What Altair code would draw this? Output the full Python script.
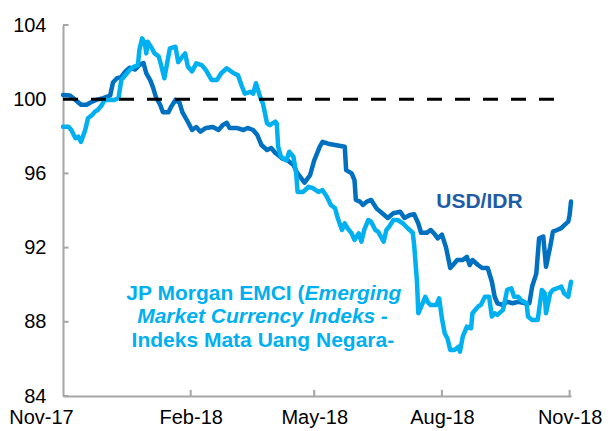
import altair as alt
import pandas as pd

# ---------------- data ----------------
usd_dates = [
    "2017-11-01", "2017-11-06", "2017-11-10", "2017-11-14", "2017-11-18", "2017-11-22", "2017-11-25", "2017-11-30", "2017-12-05", "2017-12-07",
    "2017-12-10", "2017-12-13", "2017-12-16", "2017-12-19", "2017-12-23", "2017-12-26", "2017-12-29", "2017-12-31", "2018-01-03", "2018-01-05",
    "2018-01-07", "2018-01-10", "2018-01-12", "2018-01-16", "2018-01-18", "2018-01-21", "2018-01-24", "2018-01-26", "2018-01-30", "2018-02-02",
    "2018-02-05", "2018-02-08", "2018-02-12", "2018-02-17", "2018-02-21", "2018-02-24", "2018-02-27", "2018-03-01", "2018-03-06", "2018-03-11",
    "2018-03-14", "2018-03-18", "2018-03-21", "2018-03-24", "2018-03-28", "2018-03-31", "2018-04-03", "2018-04-05", "2018-04-08", "2018-04-12",
    "2018-04-16", "2018-04-19", "2018-04-24", "2018-04-28", "2018-05-01", "2018-05-05", "2018-05-07", "2018-05-11", "2018-05-23", "2018-05-24",
    "2018-05-28", "2018-05-30", "2018-05-31", "2018-06-03", "2018-06-05", "2018-06-08", "2018-06-11", "2018-06-15", "2018-06-19", "2018-06-23",
    "2018-06-27", "2018-07-02", "2018-07-05", "2018-07-09", "2018-07-12", "2018-07-15", "2018-07-17", "2018-07-21", "2018-07-24", "2018-07-27",
    "2018-07-29", "2018-08-01", "2018-08-04", "2018-08-07", "2018-08-09", "2018-08-12", "2018-08-16", "2018-08-19", "2018-08-21", "2018-08-23",
    "2018-08-27", "2018-08-30", "2018-09-03", "2018-09-06", "2018-09-08", "2018-09-10", "2018-09-14", "2018-09-17", "2018-09-21", "2018-09-25",
    "2018-09-30", "2018-10-03", "2018-10-05", "2018-10-08", "2018-10-10", "2018-10-13", "2018-10-15", "2018-10-18", "2018-10-20", "2018-10-23",
    "2018-10-26", "2018-10-28", "2018-10-31", "2018-11-01", "2018-11-02",
]
usd_vals = [
    100.23, 100.2, 99.96, 99.7, 99.7, 99.87, 99.96, 100.06, 100.2, 100.9,
    101.14, 101.2, 101.5, 101.7, 101.6, 101.85, 101.95, 101.4, 101.0, 100.6,
    100.1, 99.7, 99.3, 99.3, 99.6, 99.96, 99.8, 99.3, 98.77, 98.34,
    98.5, 98.25, 98.45, 98.5, 98.34, 98.6, 98.73, 98.45, 98.45, 98.34,
    98.45, 98.34, 98.07, 97.53, 97.26, 97.37, 97.1, 96.99, 96.8, 96.7,
    96.45, 96.0, 95.5, 95.9, 96.7, 97.44, 97.7, 97.6, 97.44, 96.18,
    96.0, 95.64, 94.57, 94.48, 94.3, 94.48, 94.57, 94.1, 93.85, 93.6,
    93.85, 93.93, 93.6, 93.76, 93.8, 93.3, 92.8, 92.8, 92.95, 92.7,
    92.5, 92.7, 92.0, 90.9, 91.06, 91.33, 91.33, 91.5, 91.06, 91.33,
    91.06, 90.9, 90.9, 90.16, 89.35, 89.0, 88.9, 89.08, 89.0, 89.08,
    89.0, 89.0, 89.9, 90.6, 92.5, 92.6, 90.97, 92.05, 92.86, 92.95,
    93.05, 93.2, 93.4, 93.76, 94.48,
]

emci_dates = [
    "2017-11-01", "2017-11-05", "2017-11-07", "2017-11-10", "2017-11-12", "2017-11-14", "2017-11-17", "2017-11-19", "2017-11-22", "2017-11-24",
    "2017-11-26", "2017-11-29", "2017-12-01", "2017-12-05", "2017-12-08", "2017-12-11", "2017-12-13", "2017-12-16", "2017-12-19", "2017-12-22",
    "2017-12-25", "2017-12-26", "2017-12-28", "2017-12-30", "2017-12-31", "2018-01-01", "2018-01-04", "2018-01-06", "2018-01-09", "2018-01-11",
    "2018-01-13", "2018-01-15", "2018-01-17", "2018-01-21", "2018-01-23", "2018-01-25", "2018-01-28", "2018-01-30", "2018-02-02", "2018-02-05",
    "2018-02-09", "2018-02-12", "2018-02-16", "2018-02-20", "2018-02-23", "2018-02-27", "2018-03-04", "2018-03-07", "2018-03-10", "2018-03-12",
    "2018-03-16", "2018-03-18", "2018-03-20", "2018-03-23", "2018-03-25", "2018-03-28", "2018-03-30", "2018-04-03", "2018-04-04", "2018-04-05",
    "2018-04-07", "2018-04-11", "2018-04-13", "2018-04-16", "2018-04-18", "2018-04-19", "2018-04-23", "2018-04-27", "2018-04-30", "2018-05-04",
    "2018-05-07", "2018-05-10", "2018-05-13", "2018-05-16", "2018-05-18", "2018-05-21", "2018-05-23", "2018-05-25", "2018-05-28", "2018-05-30",
    "2018-06-02", "2018-06-04", "2018-06-06", "2018-06-09", "2018-06-11", "2018-06-14", "2018-06-16", "2018-06-20", "2018-06-22", "2018-06-24",
    "2018-06-27", "2018-06-30", "2018-07-04", "2018-07-08", "2018-07-11", "2018-07-12", "2018-07-14", "2018-07-15", "2018-07-17", "2018-07-20",
    "2018-07-22", "2018-07-24", "2018-07-28", "2018-07-30", "2018-08-01", "2018-08-03", "2018-08-05", "2018-08-07", "2018-08-10", "2018-08-13",
    "2018-08-14", "2018-08-16", "2018-08-19", "2018-08-22", "2018-08-23", "2018-08-27", "2018-08-29", "2018-09-01", "2018-09-04", "2018-09-06",
    "2018-09-08", "2018-09-10", "2018-09-14", "2018-09-17", "2018-09-20", "2018-09-22", "2018-09-25", "2018-09-27", "2018-10-01", "2018-10-02",
    "2018-10-05", "2018-10-09", "2018-10-12", "2018-10-14", "2018-10-15", "2018-10-18", "2018-10-20", "2018-10-23", "2018-10-26", "2018-10-28",
    "2018-10-31", "2018-11-02",
]
emci_vals = [
    98.52, 98.52, 98.34, 97.9, 97.98, 97.7, 98.34, 98.97, 99.15, 99.33,
    99.42, 99.69, 99.96, 99.96, 99.96, 100.05, 101.04, 101.3, 101.57, 101.75,
    101.84, 102.65, 103.28, 103.0, 102.47, 103.1, 102.74, 102.47, 102.3, 101.75,
    101.13, 101.93, 102.74, 102.83, 102.0, 102.2, 102.47, 101.75, 101.5, 101.93,
    101.84, 101.57, 101.04, 101.04, 101.4, 101.67, 101.4, 101.3, 100.67, 100.3,
    100.4, 100.3, 100.86, 100.13, 99.78, 98.7, 98.6, 98.79, 98.7, 97.44,
    96.9, 96.7, 97.17, 96.9, 96.0, 95.0, 95.0, 95.28, 95.2, 95.0,
    95.1, 94.75, 94.3, 94.12, 93.58, 92.95, 93.31, 93.04, 92.77, 92.41,
    92.77, 92.32, 92.95, 93.49, 93.4, 92.95, 92.86, 92.32, 92.95, 93.13,
    93.49, 93.49, 93.3, 93.0, 92.8, 92.14, 90.2, 88.46, 88.8, 89.35,
    89.04, 88.9, 88.9, 89.27, 88.19, 87.38, 87.1, 86.48, 86.48, 86.66,
    86.39, 87.2, 87.74, 87.65, 88.46, 88.82, 88.9, 89.35, 89.35, 88.28,
    88.46, 88.37, 88.64, 89.72, 89.81, 89.35, 89.35, 89.17, 89.0, 88.28,
    88.1, 88.1, 89.72, 89.54, 88.46, 89.54, 89.72, 89.81, 89.9, 89.54,
    89.35, 90.16,
]

x_tick_dates = ["2017-11-01", "2018-02-01", "2018-05-01", "2018-08-01", "2018-11-01"]
y_tick_values = [84, 88, 92, 96, 100, 104]
baseline_value = 100

# annotation texts: (anchor date, value, text)
usd_label = ["2018-08-28", 94.13, "USD/IDR"]
emci_label_parts = [
    ["2018-04-24", 89.2, "JP Morgan EMCI (", "right", "normal"],
    ["2018-04-24", 89.2, "Emerging", "left", "italic"],
    ["2018-06-14", 87.92, "Market Currency Indeks", "right", "italic"],
    ["2018-06-18", 87.92, "-", "left", "normal"],
    ["2018-03-25", 86.63, "Indeks Mata Uang Negara-", "center", "normal"],
]

# ---------------- styling ----------------
FONT = "Liberation Sans"
DARK = "#0070C0"
LIGHT = "#00B0F0"
USD_TEXT = "#1F5CA8"
AXIS_GREY = "#A6A6A6"

usd = pd.DataFrame({"date": usd_dates, "value": usd_vals})
emci = pd.DataFrame({"date": emci_dates, "value": emci_vals})
base_df = pd.DataFrame({"date": [usd_dates[0]], "date2": ["2018-10-22"], "value": [baseline_value]})
yticks_df = pd.DataFrame({"value": y_tick_values, "date": x_tick_dates[0], "date2": "2017-11-05"})
xticks_df = pd.DataFrame({"date": x_tick_dates[1:], "value": 84, "value2": 84.33})
usd_lab_df = pd.DataFrame([usd_label], columns=["date", "value", "label"])
emci_lab_df = pd.DataFrame(emci_label_parts, columns=["date", "value", "label", "align", "style"])


def dt(y, m, d):
    return alt.DateTime(year=y, month=m, date=d, utc=True)


x_scale = alt.Scale(type="utc", domain=[dt(2017, 11, 1), dt(2018, 11, 2)])
y_scale = alt.Scale(domain=[84, 104], nice=False, zero=False)

x_axis = alt.Axis(
    values=[dt(2017, 11, 1), dt(2018, 2, 1), dt(2018, 5, 1), dt(2018, 8, 1), dt(2018, 11, 1)],
    format="%b-%y", title=None, grid=False, ticks=False,
    labelFont=FONT, labelFontSize=20, labelColor="black", labelPadding=11,
    labelFlush=False, labelOverlap=False,
    labelOffset={"condition": {"test": "datum.value < time(datetime(2017, 10, 15))", "value": -22}, "value": 0},
    domainColor=AXIS_GREY, domainWidth=2,
)
y_axis = alt.Axis(
    values=y_tick_values, title=None, grid=False, ticks=False,
    labelFont=FONT, labelFontSize=20, labelColor="black", labelPadding=17,
    domainColor=AXIS_GREY, domainWidth=2,
)

X = alt.X("date:T", scale=x_scale, axis=x_axis)
Y = alt.Y("value:Q", scale=y_scale, axis=y_axis)

usd_line = alt.Chart(usd).mark_line(color=DARK, strokeWidth=4.5, strokeJoin="round", strokeCap="round").encode(x=X, y=Y)
emci_line = alt.Chart(emci).mark_line(color=LIGHT, strokeWidth=4.5, strokeJoin="round", strokeCap="round").encode(x=X, y=Y)

base_rule = alt.Chart(base_df).mark_rule(color="black", strokeWidth=3, strokeDash=[15, 13]).encode(
    x=X, x2="date2:T", y=Y)

ytick_rules = alt.Chart(yticks_df).mark_rule(color=AXIS_GREY, strokeWidth=2).encode(x=X, x2="date2:T", y=Y)
xtick_rules = alt.Chart(xticks_df).mark_rule(color=AXIS_GREY, strokeWidth=2).encode(x=X, y=Y, y2="value2:Q")

usd_text = alt.Chart(usd_lab_df).mark_text(
    align="center", baseline="alphabetic", font=FONT, fontSize=21, fontWeight="bold", color=USD_TEXT
).encode(x=X, y=Y, text="label:N")

emci_texts = []
for align in ["left", "right", "center"]:
    for style in ["normal", "italic"]:
        sub = emci_lab_df[(emci_lab_df["align"] == align) & (emci_lab_df["style"] == style)]
        if len(sub) == 0:
            continue
        emci_texts.append(
            alt.Chart(sub).mark_text(
                align=align, baseline="alphabetic", font=FONT, fontSize=21,
                fontWeight="bold", fontStyle=style, color=LIGHT
            ).encode(x=X, y=Y, text="label:N")
        )

chart = alt.layer(
    ytick_rules, xtick_rules, usd_line, emci_line, base_rule, usd_text, *emci_texts
).properties(
    width=508, height=371,
    autosize=alt.AutoSizeParams(type="none"),
    padding={"left": 55, "top": 17, "right": 37, "bottom": 32},
).configure_view(stroke=None)

chart.save("out.html", embed_options={"renderer": "svg", "actions": False})
